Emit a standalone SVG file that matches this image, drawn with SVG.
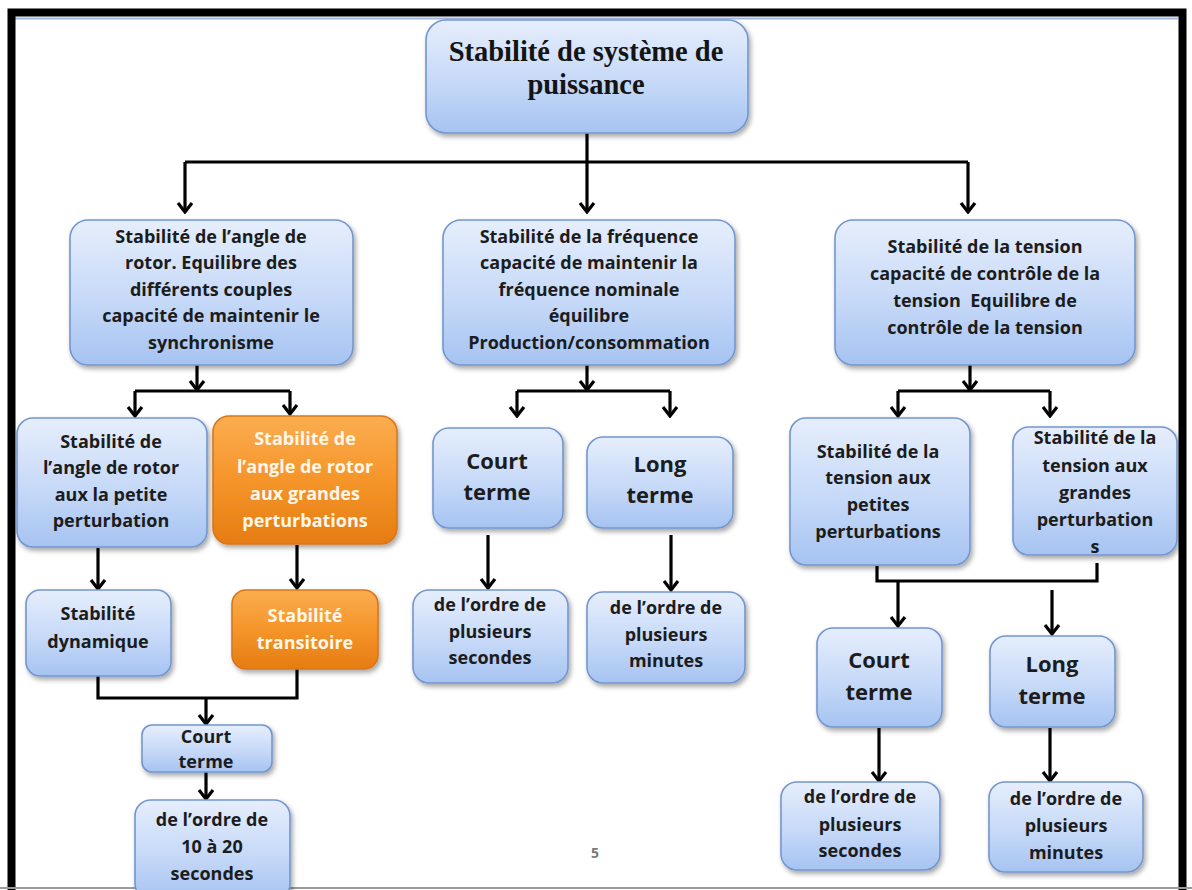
<svg xmlns="http://www.w3.org/2000/svg" width="1192" height="890" viewBox="0 0 1192 890">
  <defs>
    <linearGradient id="gBlue" x1="0" y1="0" x2="0" y2="1">
      <stop offset="0" stop-color="#e6eefc"/>
      <stop offset="0.55" stop-color="#c6d9f8"/>
      <stop offset="1" stop-color="#a6c3f1"/>
    </linearGradient>
    <linearGradient id="gOrange" x1="0" y1="0" x2="0" y2="1">
      <stop offset="0" stop-color="#fbad50"/>
      <stop offset="0.5" stop-color="#f5952a"/>
      <stop offset="1" stop-color="#e57c12"/>
    </linearGradient>
    <filter id="shadow" x="-10%" y="-10%" width="125%" height="130%">
      <feDropShadow dx="2" dy="3" stdDeviation="2.5" flood-color="#000" flood-opacity="0.35"/>
    </filter>
    <marker id="arrow" viewBox="-12 -10 14 20" refX="0" refY="0" markerWidth="14" markerHeight="20" markerUnits="userSpaceOnUse" orient="auto">
      <path d="M-9,-7 L0,0 L-9,7" fill="none" stroke="#000" stroke-width="3.2" stroke-linejoin="miter"/>
    </marker>
  </defs>
  <style>
    .box { fill: url(#gBlue); stroke: #7396cf; stroke-width: 1.6; filter: url(#shadow); }
    .obox { fill: url(#gOrange); stroke: #d9771a; stroke-width: 1.6; filter: url(#shadow); }
    .t { font-family: "Open Sans", Lato, "Liberation Sans", sans-serif; font-weight: bold; font-size: 18px; fill: #1c1c1c; text-anchor: middle; }
    .tw { fill: #fff7ea; }
    .tl { font-size: 22px; }
    .title { font-family: "Liberation Serif", "DejaVu Serif", serif; font-weight: bold; font-size: 28.5px; fill: #141414; text-anchor: middle; }
    .c { fill: none; stroke: #000; stroke-width: 3.2; }
    .ca { fill: none; stroke: #000; stroke-width: 3.2; marker-end: url(#arrow); }
  </style>

  <rect x="0" y="0" width="1192" height="890" fill="#ffffff"/>

  <!-- page frame -->
  <g id="frame">
    <line x1="15" y1="18.5" x2="1178" y2="18.5" stroke="#9fb6de" stroke-width="2"/>
    <path d="M11.5,890 V12.5 H1182.5 V890" fill="none" stroke="#000" stroke-width="8"/>
    <line x1="0" y1="888" x2="1192" y2="888" stroke="#9a9a9a" stroke-width="2"/>
  </g>

  <!-- connectors -->
  <g id="connectors">
    <!-- root to three families -->
    <path class="c" d="M587,133 V162"/>
    <path class="c" d="M185,162 H968"/>
    <path class="ca" d="M185,162 V212"/>
    <path class="ca" d="M587,162 V212"/>
    <path class="ca" d="M968,162 V212"/>

    <!-- rotor angle branch -->
    <path class="ca" d="M197,365 V390"/>
    <path class="c" d="M135,391 H290"/>
    <path class="ca" d="M135,391 V416"/>
    <path class="ca" d="M290,391 V414"/>
    <path class="ca" d="M98,548 V589"/>
    <path class="ca" d="M297,545 V588"/>
    <path class="c" d="M98,676 V698 H297 V669"/>
    <path class="ca" d="M206,698 V724"/>
    <path class="ca" d="M206,772 V799"/>

    <!-- frequency branch -->
    <path class="ca" d="M587,365 V390"/>
    <path class="c" d="M517,391 H670"/>
    <path class="ca" d="M517,391 V416"/>
    <path class="ca" d="M670,391 V416"/>
    <path class="ca" d="M488,535 V588"/>
    <path class="ca" d="M671,535 V590"/>

    <!-- voltage branch -->
    <path class="ca" d="M970,365 V390"/>
    <path class="c" d="M898,391 H1050"/>
    <path class="ca" d="M898,391 V416"/>
    <path class="ca" d="M1050,391 V416"/>
    <path class="c" d="M877,566 V581 H1097 V563"/>
    <path class="ca" d="M898,581 V626"/>
    <path class="ca" d="M1052,590 V634"/>
    <path class="ca" d="M879,728 V781"/>
    <path class="ca" d="M1050,728 V781"/>
  </g>

  <!-- nodes -->
  <g id="root">
    <rect class="box" x="426" y="20" width="322" height="113" rx="20"/>
    <text class="title" x="586" y="61">Stabilité de système de</text>
    <text class="title" x="586" y="94">puissance</text>
  </g>

  <g id="rotor">
    <rect class="box" x="70" y="220" width="283" height="145" rx="18"/>
    <text class="t" x="211" y="243">Stabilité de l’angle de</text>
    <text class="t" x="211" y="269">rotor. Equilibre des</text>
    <text class="t" x="211" y="296">différents couples</text>
    <text class="t" x="211" y="322">capacité de maintenir le</text>
    <text class="t" x="211" y="349">synchronisme</text>
  </g>

  <g id="frequence">
    <rect class="box" x="443" y="220" width="292" height="145" rx="18"/>
    <text class="t" x="589" y="243">Stabilité de la fréquence</text>
    <text class="t" x="589" y="269">capacité de maintenir la</text>
    <text class="t" x="589" y="296">fréquence nominale</text>
    <text class="t" x="589" y="322">équilibre</text>
    <text class="t" x="589" y="349">Production/consommation</text>
  </g>

  <g id="tension">
    <rect class="box" x="835" y="220" width="300" height="145" rx="18"/>
    <text class="t" x="985" y="253">Stabilité de la tension</text>
    <text class="t" x="985" y="280">capacité de contrôle de la</text>
    <text class="t" x="985" y="307">tension&#160; Equilibre de</text>
    <text class="t" x="985" y="334">contrôle de la tension</text>
  </g>

  <g id="rotor-petite">
    <rect class="box" x="17" y="418" width="190" height="129" rx="16"/>
    <text class="t" x="111" y="448">Stabilité de</text>
    <text class="t" x="111" y="474">l’angle de rotor</text>
    <text class="t" x="111" y="501">aux la petite</text>
    <text class="t" x="111" y="527">perturbation</text>
  </g>

  <g id="rotor-grandes">
    <rect class="obox" x="213" y="416" width="184" height="128" rx="16"/>
    <text class="t tw" x="305" y="445">Stabilité de</text>
    <text class="t tw" x="305" y="473">l’angle de rotor</text>
    <text class="t tw" x="305" y="500">aux grandes</text>
    <text class="t tw" x="305" y="527">perturbations</text>
  </g>

  <g id="dynamique">
    <rect class="box" x="26" y="590" width="145" height="86" rx="14"/>
    <text class="t" x="98" y="620">Stabilité</text>
    <text class="t" x="98" y="648">dynamique</text>
  </g>

  <g id="transitoire">
    <rect class="obox" x="232" y="590" width="146" height="79" rx="14"/>
    <text class="t tw" x="305" y="622">Stabilité</text>
    <text class="t tw" x="305" y="649">transitoire</text>
  </g>

  <g id="rotor-court">
    <rect class="box" x="142" y="725" width="130" height="47" rx="10"/>
    <text class="t" x="206" y="743">Court</text>
    <text class="t" x="206" y="768">terme</text>
  </g>

  <g id="rotor-duree">
    <rect class="box" x="135" y="800" width="155" height="100" rx="16"/>
    <text class="t" x="212" y="826">de l’ordre de</text>
    <text class="t" x="212" y="853">10 à 20</text>
    <text class="t" x="212" y="880">secondes</text>
  </g>

  <g id="freq-court">
    <rect class="box" x="433" y="428" width="130" height="100" rx="16"/>
    <text class="t tl" x="497" y="469">Court</text>
    <text class="t tl" x="497" y="500">terme</text>
  </g>

  <g id="freq-long">
    <rect class="box" x="587" y="437" width="146" height="91" rx="16"/>
    <text class="t tl" x="660" y="472">Long</text>
    <text class="t tl" x="660" y="503">terme</text>
  </g>

  <g id="freq-court-duree">
    <rect class="box" x="413" y="590" width="155" height="93" rx="16"/>
    <text class="t" x="490" y="611">de l’ordre de</text>
    <text class="t" x="490" y="638">plusieurs</text>
    <text class="t" x="490" y="664">secondes</text>
  </g>

  <g id="freq-long-duree">
    <rect class="box" x="587" y="592" width="158" height="91" rx="16"/>
    <text class="t" x="666" y="614">de l’ordre de</text>
    <text class="t" x="666" y="641">plusieurs</text>
    <text class="t" x="666" y="667">minutes</text>
  </g>

  <g id="tension-petites">
    <rect class="box" x="790" y="418" width="180" height="147" rx="16"/>
    <text class="t" x="878" y="458">Stabilité de la</text>
    <text class="t" x="878" y="484">tension aux</text>
    <text class="t" x="878" y="511">petites</text>
    <text class="t" x="878" y="538">perturbations</text>
  </g>

  <g id="tension-grandes">
    <rect class="box" x="1013" y="427" width="164" height="128" rx="16"/>
    <text class="t" x="1095" y="444">Stabilité de la</text>
    <text class="t" x="1095" y="472">tension aux</text>
    <text class="t" x="1095" y="499">grandes</text>
    <text class="t" x="1095" y="526">perturbation</text>
    <text class="t" x="1095" y="553">s</text>
  </g>

  <g id="tension-court">
    <rect class="box" x="817" y="628" width="125" height="99" rx="16"/>
    <text class="t tl" x="879" y="668">Court</text>
    <text class="t tl" x="879" y="700">terme</text>
  </g>

  <g id="tension-long">
    <rect class="box" x="990" y="636" width="125" height="91" rx="16"/>
    <text class="t tl" x="1052" y="672">Long</text>
    <text class="t tl" x="1052" y="704">terme</text>
  </g>

  <g id="tension-court-duree">
    <rect class="box" x="781" y="782" width="159" height="88" rx="16"/>
    <text class="t" x="860" y="803">de l’ordre de</text>
    <text class="t" x="860" y="831">plusieurs</text>
    <text class="t" x="860" y="857">secondes</text>
  </g>

  <g id="tension-long-duree">
    <rect class="box" x="989" y="782" width="154" height="90" rx="16"/>
    <text class="t" x="1066" y="805">de l’ordre de</text>
    <text class="t" x="1066" y="832">plusieurs</text>
    <text class="t" x="1066" y="859">minutes</text>
  </g>

  <g id="page-number">
    <text x="595" y="858" font-family="'Open Sans', 'Liberation Sans', sans-serif" font-weight="bold" font-size="14" fill="#7a7a7a" text-anchor="middle">5</text>
  </g>
</svg>
